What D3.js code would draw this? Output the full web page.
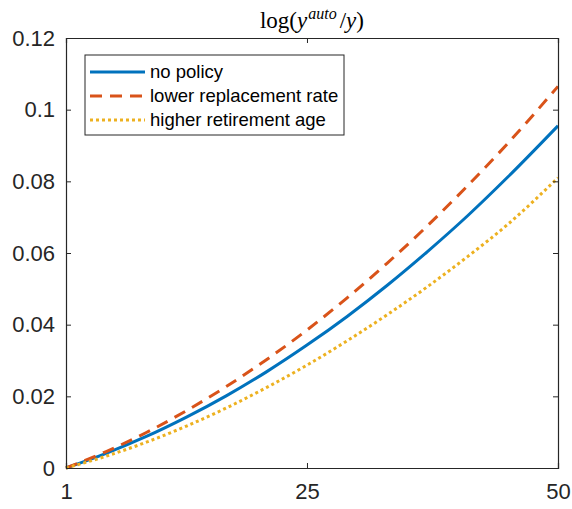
<!DOCTYPE html>
<html><head><meta charset="utf-8">
<script src="https://cdn.jsdelivr.net/npm/d3@7"></script>
<style>body{margin:0;background:#fff;} svg{display:block;}</style>
</head><body>
<svg id="c" width="572" height="509"></svg>
<script>
const xs = [1,5,9,13,17,21,25,29,33,37,41,45,50];
const noPolicy   = [0,0.0041,0.0088,0.0142,0.0202,0.0269,0.0343,0.0423,0.0510,0.0604,0.0704,0.0812,0.0955];
const lowerRepl  = [0,0.0046,0.0099,0.0160,0.0228,0.0303,0.0385,0.0475,0.0572,0.0676,0.0788,0.0906,0.1065];
const higherRet  = [0,0.0033,0.0072,0.0117,0.0168,0.0225,0.0287,0.0355,0.0428,0.0506,0.0590,0.0680,0.0810];
const seriesNames = ["no policy","lower replacement rate","higher retirement age"];
const xTicks = [1,25,50];
const yTicks = [0,0.02,0.04,0.06,0.08,0.1,0.12];

const svg = d3.select("#c");
const L=66,R=558,T=38,B=468;
const x = d3.scaleLinear().domain([1,50]).range([L,R]);
const y = d3.scaleLinear().domain([0,0.12]).range([B,T]);
const axCol="#262626";

const series = [
  {name:seriesNames[0], vals:noPolicy, color:"#0072BD", dash:null},
  {name:seriesNames[1], vals:lowerRepl, color:"#D95319", dash:"12,8"},
  {name:seriesNames[2], vals:higherRet, color:"#EDB120", dash:"3,3"}
];
const line = d3.line().x((d,i)=>x(xs[i])).y(d=>y(d)).curve(d3.curveMonotoneX);

const g = svg.append("g");
series.forEach(s=>{
  g.append("path").attr("d",line(s.vals)).attr("fill","none")
   .attr("stroke",s.color).attr("stroke-width",3)
   .attr("stroke-dasharray",s.dash);
});

// axes
const fmtY = d=> d===0?"0":String(+d.toFixed(2));
const yAxL = d3.axisLeft(y).tickValues(yTicks).tickSize(-5).tickPadding(11).tickFormat(fmtY);
const yAxR = d3.axisRight(y).tickValues(yTicks).tickSize(-5).tickFormat("");
const xAxB = d3.axisBottom(x).tickValues(xTicks).tickSize(-5).tickPadding(15).tickFormat(d3.format("d"));
const xAxT = d3.axisTop(x).tickValues(xTicks).tickSize(-5).tickFormat("");
function style(sel){
  sel.selectAll("path").attr("stroke",axCol).attr("stroke-width",1.2);
  sel.selectAll("line").attr("stroke",axCol).attr("stroke-width",1);
  sel.selectAll("text").attr("fill",axCol).style("font-family","'Liberation Sans',Arial,sans-serif").style("font-size","22px");
}
svg.append("g").attr("transform",`translate(${L},0)`).call(yAxL).call(style);
svg.append("g").attr("transform",`translate(${R},0)`).call(yAxR).call(style);
svg.append("g").attr("transform",`translate(0,${B})`).call(xAxB).call(style);
svg.append("g").attr("transform",`translate(0,${T})`).call(xAxT).call(style);

// title
const t = svg.append("text").attr("x",(L+R)/2).attr("y",28).attr("text-anchor","middle")
  .style("font-family","'Liberation Serif','Times New Roman',serif").style("font-size","23px").attr("fill","#000");
t.append("tspan").text("log(");
t.append("tspan").style("font-style","italic").text("y");
t.append("tspan").style("font-style","italic").style("font-size","16px").attr("dy",-9).attr("dx",1).text("auto");
t.append("tspan").attr("dy",9).attr("dx",3).text("/");
t.append("tspan").style("font-style","italic").text("y");
t.append("tspan").text(")");

// legend
const lg = svg.append("g");
lg.append("rect").attr("x",85).attr("y",55).attr("width",259).attr("height",80)
  .attr("fill","#fff").attr("stroke",axCol).attr("stroke-width",1);
series.forEach((s,i)=>{
  const yy = 72 + i*24;
  lg.append("line").attr("x1",90).attr("x2",145).attr("y1",yy).attr("y2",yy)
    .attr("stroke",s.color).attr("stroke-width",3).attr("stroke-dasharray",s.dash);
  lg.append("text").attr("x",150).attr("y",yy).attr("dy","0.35em").text(s.name)
    .style("font-family","'Liberation Sans',Arial,sans-serif").style("font-size","18.5px").attr("fill","#000");
});
</script>
</body></html>
